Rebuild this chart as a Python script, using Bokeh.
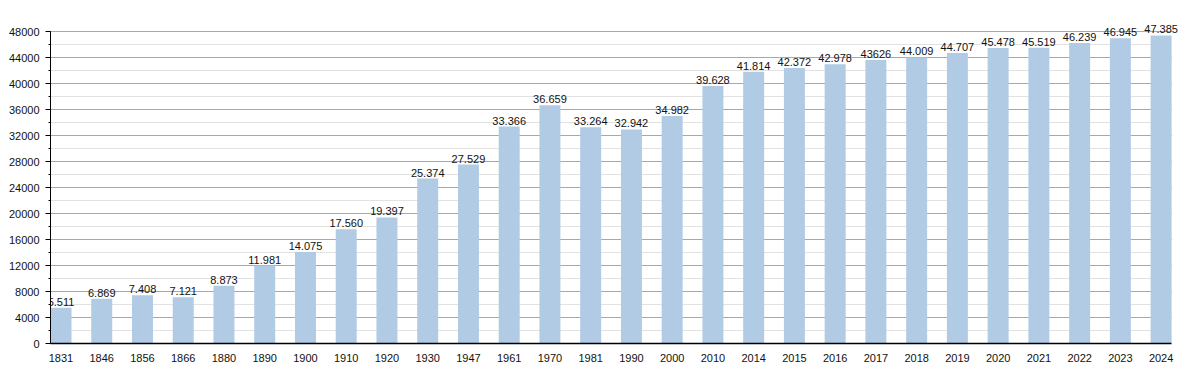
from bokeh.plotting import figure
from bokeh.models import ColumnDataSource, SingleIntervalTicker, FixedTicker, Range1d, LabelSet
from bokeh.core.properties import value
from bokeh.embed import file_html
from bokeh.resources import INLINE

years = ["1831", "1846", "1856", "1866", "1880", "1890", "1900", "1910", "1920", "1930",
         "1947", "1961", "1970", "1981", "1990", "2000", "2010", "2014", "2015", "2016",
         "2017", "2018", "2019", "2020", "2021", "2022", "2023", "2024"]
population = [5511, 6869, 7408, 7121, 8873, 11981, 14075, 17560, 19397, 25374,
              27529, 33366, 36659, 33264, 32942, 34982, 39628, 41814, 42372, 42978,
              43626, 44009, 44707, 45478, 45519, 46239, 46945, 47385]
value_labels = ["5.511", "6.869", "7.408", "7.121", "8.873", "11.981", "14.075", "17.560",
                "19.397", "25.374", "27.529", "33.366", "36.659", "33.264", "32.942",
                "34.982", "39.628", "41.814", "42.372", "42.978", "43626", "44.009",
                "44.707", "45.478", "45.519", "46.239", "46.945", "47.385"]
y_max = 48000

bw = 0.515
x_end = len(years) - 1 + bw
xs = [i + bw / 2 for i in range(len(years))]
src = ColumnDataSource(dict(x=xs, top=population, lab=value_labels))

FONT = "Liberation Sans"

p = figure(width=1192, height=365, output_backend="svg", toolbar_location=None,
           x_range=Range1d(0, x_end + 0.39), y_range=Range1d(0, 52000),
           min_border_left=50, min_border_right=5, min_border_top=5, min_border_bottom=22)
p.outline_line_color = None
p.background_fill_color = "white"

p.vbar(x="x", top="top", width=bw, bottom=0, source=src, fill_color="#b1cbe5", line_color=None)

labels = LabelSet(x="x", y="top", text="lab", source=src, text_align="center",
                  text_baseline="bottom", y_offset=2, text_font=value(FONT),
                  text_font_size=value("11px"), text_color=value("#111111"))
p.add_layout(labels)

# y axis
p.yaxis.ticker = SingleIntervalTicker(interval=4000, num_minor_ticks=2)
p.yaxis.bounds = (0, y_max)
p.yaxis.axis_line_color = "black"
p.yaxis.major_tick_line_color = "black"
p.yaxis.major_tick_out = 5
p.yaxis.major_tick_in = 0
p.yaxis.minor_tick_line_color = "black"
p.yaxis.minor_tick_out = 2
p.yaxis.minor_tick_in = 0
p.yaxis.major_label_text_font = FONT
p.yaxis.major_label_text_font_size = "11px"
p.yaxis.major_label_text_color = "#111111"
p.yaxis.major_label_standoff = 6

# x axis
p.xaxis.ticker = FixedTicker(ticks=xs)
p.xaxis.bounds = (0, x_end)
p.xaxis.major_label_overrides = {x: y for x, y in zip(xs, years)}
p.xaxis.axis_line_color = "black"
p.xaxis.axis_line_width = 1.5
p.xaxis.major_tick_line_color = None
p.xaxis.minor_tick_line_color = None
p.xaxis.major_label_text_font = FONT
p.xaxis.major_label_text_font_size = "11px"
p.xaxis.major_label_text_color = "#111111"
p.xaxis.major_label_standoff = 4

p.xgrid.grid_line_color = None
p.ygrid.bounds = (0, y_max)
p.ygrid.grid_line_color = "#a8a8a8"
p.ygrid.minor_grid_line_color = "#e2e2e2"
for g in p.ygrid:
    if "cross_bounds" in g.properties():
        g.cross_bounds = (0, x_end)

open("out.html", "w").write(file_html(p, INLINE))
